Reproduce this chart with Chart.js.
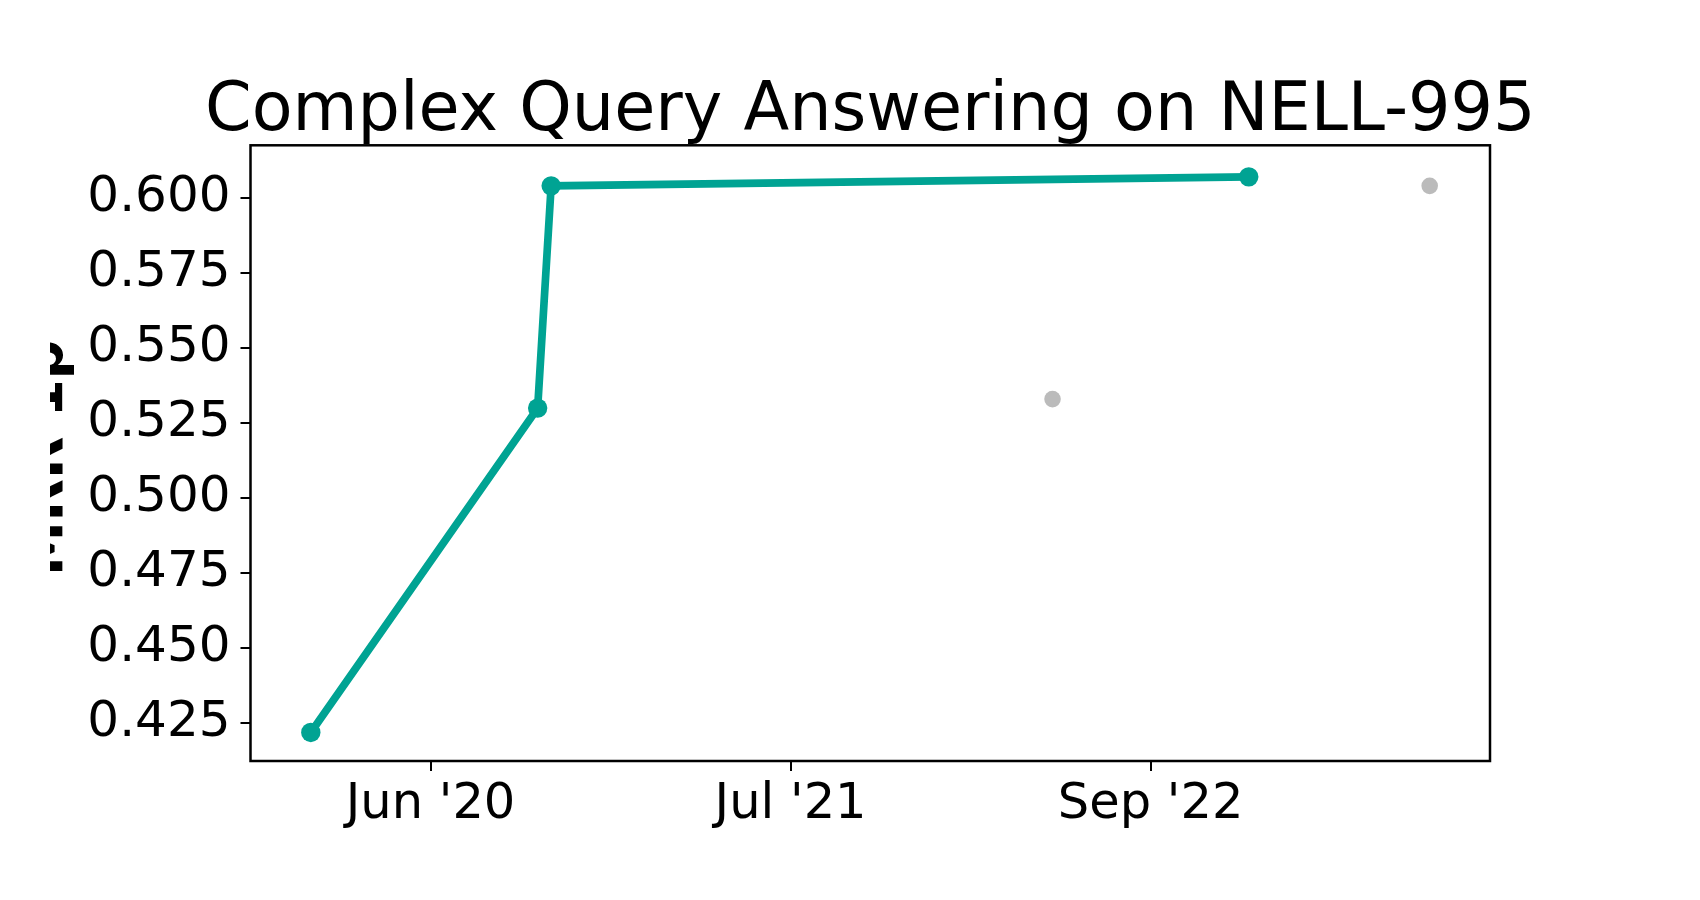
<!DOCTYPE html>
<html>
<head>
<meta charset="utf-8">
<script src="https://cdn.jsdelivr.net/npm/chart.js@4.4.1/dist/chart.umd.min.js"></script>
<style>
  html, body { margin: 0; padding: 0; background: #fff; }
  #wrap { width: 1700px; height: 900px; }
</style>
</head>
<body>
<div id="wrap"><canvas id="chart" width="1700" height="900"></canvas></div>
<script>
// Complex Query Answering on NELL-995 — SOTA line plus other results
const sotaDates = ['2020-02-13', '2020-10-22', '2020-11-06', '2022-12-21']
const sotaValues = [0.422, 0.530, 0.604, 0.607]
const otherDates = ['2022-05-17', '2023-07-10']
const otherValues = [0.533, 0.604]
const xTickDates = ['2020-06-25', '2021-07-30', '2022-09-03']
const xTickLabels = ["Jun '20", "Jul '21", "Sep '22"]
const yTicks = [0.425, 0.450, 0.475, 0.500, 0.525, 0.550, 0.575, 0.600]
const titleText = 'Complex Query Answering on NELL-995'
const yLabel = 'MRR 1p'

const X_MIN = Date.parse('2019-12-08')
const X_MAX = Date.parse('2023-09-15')
const Y_MIN = 0.4125
const Y_MAX = 0.6175

const TEAL = '#00a393'
const GREY = '#bbbbbb'
const FONT = '"DejaVu Sans", sans-serif'

const toPoints = (dates, vals) => dates.map((d, i) => ({ x: Date.parse(d), y: vals[i] }))

// full box around the plot area, title, and the clipped y label
const framePlugin = {
  id: 'frame',
  afterDraw (chart) {
    const { ctx, chartArea: a } = chart
    ctx.save()
    ctx.strokeStyle = '#000'
    ctx.lineWidth = 2.5
    ctx.strokeRect(a.left, a.top, a.right - a.left, a.bottom - a.top)

    ctx.font = '66.8px ' + FONT
    ctx.fillStyle = '#000'
    ctx.textAlign = 'center'
    ctx.textBaseline = 'alphabetic'
    ctx.fillText(titleText, (a.left + a.right) / 2, 130)
    ctx.restore()

    ctx.save()
    ctx.beginPath()
    ctx.rect(50, 0, 1700, 900)
    ctx.clip()
    ctx.translate(62, 458)
    ctx.rotate(-Math.PI / 2)
    ctx.font = 'bold 55px ' + FONT
    ctx.fillStyle = '#000'
    ctx.textAlign = 'center'
    ctx.textBaseline = 'alphabetic'
    ctx.fillText(yLabel, 0, 0)
    ctx.restore()
  }
}

new Chart(document.getElementById('chart'), {
  type: 'scatter',
  data: {
    datasets: [
      {
        data: toPoints(otherDates, otherValues),
        backgroundColor: GREY,
        borderColor: GREY,
        pointRadius: 8.3,
        pointBorderWidth: 0,
        showLine: false
      },
      {
        data: toPoints(sotaDates, sotaValues),
        backgroundColor: TEAL,
        borderColor: TEAL,
        borderWidth: 7.7,
        pointRadius: 9.7,
        pointBorderWidth: 0,
        showLine: true,
        tension: 0
      }
    ]
  },
  options: {
    responsive: false,
    animation: false,
    devicePixelRatio: 1,
    layout: { padding: { left: 0, right: 210, top: 145.3, bottom: 0 } },
    plugins: {
      legend: { display: false },
      tooltip: { enabled: false },
      title: { display: false }
    },
    scales: {
      x: {
        type: 'linear',
        min: X_MIN,
        max: X_MAX,
        border: { display: false },
        grid: { drawOnChartArea: false, drawTicks: true, tickLength: 10, color: '#000', lineWidth: 2 },
        afterBuildTicks: s => { s.ticks = xTickDates.map(d => ({ value: Date.parse(d) })) },
        afterFit: s => { s.height = 139 },
        ticks: {
          autoSkip: false,
          maxRotation: 0,
          padding: 4,
          color: '#000',
          font: { family: FONT, size: 49.5 },
          callback: (v, i) => xTickLabels[i]
        }
      },
      y: {
        min: Y_MIN,
        max: Y_MAX,
        border: { display: false },
        grid: { drawOnChartArea: false, drawTicks: true, tickLength: 10, color: '#000', lineWidth: 2 },
        afterBuildTicks: s => { s.ticks = yTicks.map(v => ({ value: v })) },
        afterFit: s => { s.width = 250.5 },
        ticks: {
          padding: 10,
          color: '#000',
          font: { family: FONT, size: 50 },
          callback: v => v.toFixed(3)
        }
      }
    }
  },
  plugins: [framePlugin]
})
</script>
</body>
</html>
